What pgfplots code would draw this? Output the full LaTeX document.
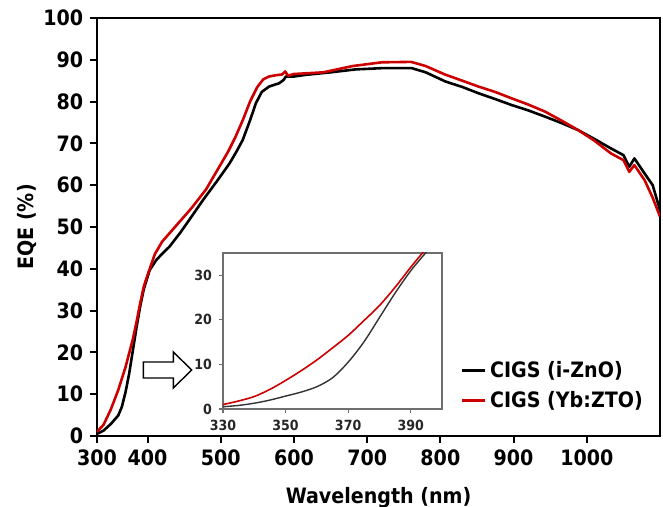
\documentclass[border=0pt]{standalone}
\usepackage{pgfplots}
\pgfplotsset{compat=1.18}
\usepackage{fontspec}
\setmainfont{DejaVu Sans Condensed}
\definecolor{myred}{RGB}{204,0,0}
\definecolor{framegray}{RGB}{110,110,110}
\begin{document}
\begin{tikzpicture}
\begin{axis}[
  scale only axis,
  width=281.5pt, height=209pt,
  at={(48.5pt,-218pt)}, anchor=south west,
  xmin=331, xmax=1100, ymin=0, ymax=100,
  xtick={331,400,500,600,700,800,900,1000},
  xticklabels={300,400,500,600,700,800,900,1000},
  ytick={0,10,...,100},
  xtick pos=left, ytick pos=left,
  tick align=outside,
  major tick length=3.4pt,
  axis line style={line width=1pt},
  every tick/.style={line width=1pt, black},
  /pgf/number format/assume math mode=true,
  tick label style={font=\bfseries\fontsize{10.6}{12}\selectfont},
  label style={font=\bfseries\fontsize{10.6}{12}\selectfont},
  xlabel={Wavelength (nm)},
  ylabel={EQE (\%)},
  xlabel style={at={([yshift=-33.5pt]axis description cs:0.5,0)}, anchor=base},
  ylabel style={at={([xshift=-35pt]axis description cs:0,0.5)}, anchor=center},
  legend style={at={(axis description cs:0.645,0.19)}, anchor=north west, draw=none, fill=none,
     font=\bfseries\fontsize{10.6}{12}\selectfont, row sep=1.5pt, inner sep=0pt},
  legend cell align=left,
  legend image code/.code={\draw[#1] (0pt,0pt) -- (11.5pt,0pt);},
]
\addplot[black, line width=1.3pt, line join=round] table {
331 0.5
340 1.3
350 2.9
360 4.9
365 7
370 10.5
375 15
380 20.5
385 26
390 31
395 35.2
403 39.7
412 42.1
420 43.6
430 45.3
445 48.7
457 51.7
476 56.5
495 61
512 65.2
522 68.2
530 70.8
540 75.5
548 79.6
556 82.3
566 83.6
580 84.4
586 85.2
589 86
600 86
616 86.4
650 87
684 87.7
720 88
761 88
780 87
807 84.8
830 83.5
852 82
875 80.6
897 79.2
920 77.9
943 76.4
965 74.9
988 73.2
1010 71.1
1033 68.8
1050 67.2
1058 64.4
1065 66.4
1079 62.8
1090 60
1100 54
};
\addlegendentry{CIGS (i-ZnO)}
\addplot[myred, line width=1.3pt, line join=round] table {
331 1.0
340 2.7
350 6.4
360 11.0
370 16.5
380 23.2
385 27.3
390 31.8
395 35.8
400 38.5
410 43.5
420 46.5
440 50.5
460 54.5
480 59
500 65
510 68
520 71.5
530 75.5
540 80
550 83.5
558 85.3
566 86
575 86.3
584 86.5
588 87.2
592 86.2
600 86.6
640 87
680 88.5
720 89.4
760 89.5
780 88.5
806 86.5
830 85
852 83.6
875 82.3
897 80.8
920 79.3
943 77.6
965 75.5
988 73.2
1010 70.7
1033 67.6
1050 66
1058 63.2
1065 64.8
1079 61.2
1090 57
1100 52.5
};
\addlegendentry{CIGS (Yb:ZTO)}
\end{axis}
\filldraw[fill=white, draw=black, line width=0.7pt, line join=miter]
  (71.7pt,-181pt) -- (86.7pt,-181pt) -- (86.7pt,-176pt) -- (95.8pt,-185pt)
  -- (86.7pt,-194pt) -- (86.7pt,-189pt) -- (71.7pt,-189pt) -- cycle;
\begin{axis}[
  scale only axis,
  width=109.5pt, height=78pt,
  at={(111.5pt,-204.5pt)}, anchor=south west,
  xmin=330, xmax=400, ymin=0, ymax=35,
  xtick={330,350,370,390},
  ytick={0,10,20,30},
  xtick pos=left, ytick pos=left,
  tick align=outside,
  major tick length=2pt,
  axis background/.style={fill=white},
  axis line style={line width=0.75pt, framegray},
  every tick/.style={line width=0.6pt, framegray},
  /pgf/number format/assume math mode=true,
  tick label style={font=\bfseries\fontsize{7}{8}\selectfont, text=black!85},
]
\addplot[black!80, line width=0.7pt, smooth] table {
330 0.5
335 0.8
340 1.3
345 2.0
350 2.9
355 3.8
360 5.0
365 7.0
370 10.5
375 15.0
380 20.5
385 26.0
390 31.0
395 35.2
};
\addplot[myred, line width=0.8pt, smooth] table {
330 1.0
335 1.8
340 2.8
345 4.4
350 6.4
355 8.6
360 11.0
365 13.7
370 16.5
375 19.8
380 23.2
385 27.3
390 31.8
394 35.2
};
\end{axis}
\pgfresetboundingbox
\path (0pt,0pt) rectangle (331.5pt,-253.5pt);
\end{tikzpicture}
\end{document}
